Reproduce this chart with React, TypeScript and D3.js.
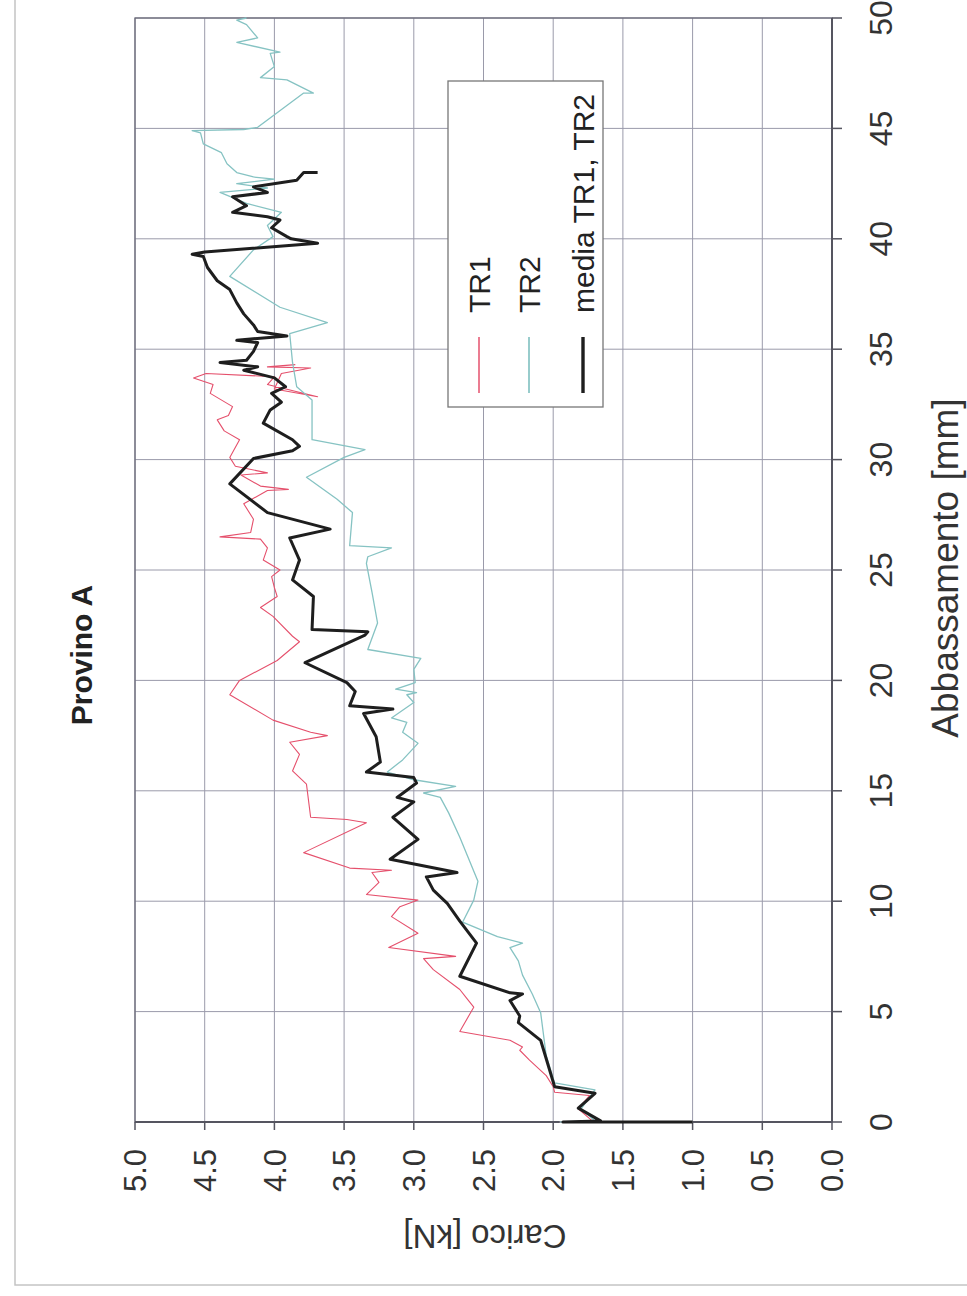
import React from "react";
import * as d3 from "d3";

const W = 967;
const H = 1296;

const xTicks = [0, 5, 10, 15, 20, 25, 30, 35, 40, 45, 50];
const yTicks = [0, 0.5, 1, 1.5, 2, 2.5, 3, 3.5, 4, 4.5, 5];

const tr1Mm = [0, 0, 0.05, 0.6, 1.2, 1.35, 1.6, 2.1, 2.8, 3.25, 3.4, 3.7, 4.1, 5.2, 5.6, 6.0, 6.9, 7.4, 7.5, 7.9, 8.55, 9.3, 9.75, 10.05, 10.3, 10.85, 11.3, 11.4, 11.5, 12.2, 13.55, 13.7, 13.8, 15.3, 15.9, 16.65, 17.2, 17.5, 17.65, 18.2, 19.35, 20.0, 20.9, 21.75, 22.0, 22.9, 23.3, 23.8, 24.2, 24.7, 25.0, 25.45, 26.0, 26.4, 26.5, 26.7, 27.3, 28.0, 28.6, 28.65, 28.8, 29.3, 29.4, 29.7, 30.1, 30.9, 31.3, 31.8, 32.0, 32.4, 33.0, 33.4, 33.7, 33.9, 33.75, 33.4, 32.85, 33.2, 33.9, 34.15, 34.2, 34.3];
const tr1Kn = [1.0, 1.95, 1.72, 1.82, 1.74, 1.99, 2.0, 2.05, 2.17, 2.24, 2.22, 2.31, 2.67, 2.57, 2.62, 2.67, 2.86, 2.93, 2.7, 3.18, 2.97, 3.16, 3.1, 2.97, 3.34, 3.25, 3.3, 3.16, 3.46, 3.79, 3.34, 3.48, 3.74, 3.77, 3.87, 3.82, 3.89, 3.62, 3.74, 4.01, 4.32, 4.25, 3.98, 3.82, 3.87, 4.01, 4.1, 3.98, 4.0, 4.02, 3.96, 4.08, 4.05, 4.1, 4.39, 4.17, 4.15, 4.22, 4.05, 3.9, 4.1, 4.24, 4.05, 4.28, 4.32, 4.25, 4.36, 4.41, 4.33, 4.3, 4.46, 4.44, 4.58, 4.49, 4.0, 4.05, 3.69, 4.0, 3.95, 3.74, 4.05, 3.85];

const tr2Mm = [0, 0, 0.05, 0.6, 1.45, 1.77, 3.0, 4.95, 5.8, 6.65, 7.3, 7.9, 8.1, 8.4, 9.05, 10.05, 10.9, 12.9, 14.0, 14.7, 14.9, 15.2, 15.5, 15.85, 16.4, 17.15, 17.65, 18.1, 18.3, 19.0, 19.35, 19.45, 19.6, 19.9, 20.5, 21.0, 21.4, 22.6, 24.0, 25.3, 25.6, 26.0, 26.1, 27.6, 28.2, 29.2, 30.1, 30.45, 30.9, 32.7, 33.3, 34.4, 35.7, 36.2, 36.9, 38.3, 39.5, 40.1, 40.6, 41.2, 41.6, 42.1, 42.3, 42.5, 42.7, 42.8, 43.0, 43.4, 43.9, 44.3, 44.8, 44.9, 44.95, 45.05, 46.6, 46.6, 47.2, 47.3, 47.8, 48.4, 48.45, 48.9, 49.1, 49.7, 49.9, 50.0];
const tr2Kn = [1.0, 1.95, 1.7, 1.8, 1.7, 1.99, 2.05, 2.09, 2.15, 2.22, 2.25, 2.31, 2.22, 2.4, 2.65, 2.57, 2.54, 2.67, 2.75, 2.81, 2.93, 2.7, 3.0, 3.19, 3.08, 2.97, 3.08, 3.05, 3.16, 3.0, 3.05, 2.98, 3.13, 2.99, 3.0, 2.95, 3.33, 3.26, 3.3, 3.34, 3.33, 3.16, 3.46, 3.44, 3.55, 3.77, 3.5, 3.35, 3.73, 3.73, 3.84, 3.87, 3.89, 3.62, 3.96, 4.32, 4.15, 4.01, 4.05, 3.95, 4.2, 4.39, 4.05, 4.27, 4.0, 4.15, 4.27, 4.34, 4.38, 4.51, 4.53, 4.59, 4.22, 4.12, 3.79, 3.72, 3.91, 4.1, 4.0, 4.03, 3.96, 4.27, 4.12, 4.2, 4.27, 4.2];

const meanMm = [0, 0, 0.05, 0.63, 1.3, 1.6, 3.7, 4.5, 4.8, 5.5, 5.8, 5.85, 6.6, 8.1, 9.1, 9.9, 10.5, 11.1, 11.3, 11.9, 12.8, 13.8, 14.5, 14.7, 15.35, 15.6, 15.85, 16.3, 17.45, 18.5, 18.7, 18.85, 19.5, 19.9, 20.8, 22.05, 22.2, 22.3, 23.8, 24.55, 25.45, 26.45, 26.85, 27.6, 28.9, 30.05, 30.4, 30.6, 30.9, 31.65, 32.25, 32.6, 33.0, 33.3, 33.7, 34.05, 34.2, 34.4, 34.5, 34.9, 35.3, 35.4, 35.5, 35.6, 35.8, 36.1, 36.6, 37.1, 37.7, 38.1, 38.7, 39.2, 39.3, 39.4, 39.8, 40.0, 40.1, 40.5, 40.85, 41.0, 41.2, 41.5, 41.9, 42.1, 42.35, 42.65, 43.0, 43.0];
const meanKn = [1.0, 1.93, 1.66, 1.82, 1.7, 1.99, 2.09, 2.25, 2.24, 2.31, 2.22, 2.31, 2.67, 2.55, 2.67, 2.76, 2.86, 2.91, 2.69, 3.17, 2.97, 3.15, 3.0, 3.12, 2.98, 3.0, 3.34, 3.24, 3.27, 3.36, 3.15, 3.46, 3.42, 3.48, 3.78, 3.35, 3.33, 3.73, 3.72, 3.87, 3.82, 3.89, 3.6, 4.05, 4.32, 4.15, 3.87, 3.82, 3.87, 4.08, 4.03, 3.95, 4.02, 3.92, 4.0, 4.22, 4.12, 4.39, 4.2, 4.15, 4.12, 4.27, 4.1, 3.91, 4.12, 4.15, 4.22, 4.27, 4.32, 4.41, 4.48, 4.51, 4.59, 4.5, 3.69, 3.88, 3.91, 4.02, 3.96, 4.05, 4.3, 4.2, 4.3, 4.05, 4.15, 3.84, 3.79, 3.69];

const legendLabels = ["TR1", "TR2", "media TR1, TR2"];
const FONT = "'Liberation Sans', Arial, sans-serif";

export default function App() {
  // original (unrotated) coordinate system: width H, height W
  const x = d3.scaleLinear().domain([0, 50]).range([174, 1278]);
  const y = d3.scaleLinear().domain([0, 5]).range([832, 135]);
  const mk = (mm: number[], kn: number[]) =>
    d3
      .line<number>()
      .x((_, i) => x(mm[i]))
      .y((_, i) => y(kn[i]))(mm) || "";

  const series = [
    { mm: tr1Mm, kn: tr1Kn, color: "#e5506c", w: 1.1 },
    { mm: tr2Mm, kn: tr2Kn, color: "#86c3c3", w: 1.3 },
    { mm: meanMm, kn: meanKn, color: "#1e1e1e", w: 3 },
  ];

  const gridColor = "#9a9aaa";
  const fmt = d3.format(".1f");
  const legendOy = [479, 529, 583];

  return (
    <svg
      width={W}
      height={H}
      style={{ position: "absolute", left: 0, top: 0, background: "#fff" }}
      fontFamily={FONT}
    >
      <rect x={0} y={0} width={W} height={H} fill="#fff" />
      <rect x={15} y={-5} width={1000} height={1290} fill="none" stroke="#c4c4c4" strokeWidth={1.5} />
      <g transform={`translate(0,${H}) rotate(-90)`}>
        {/* grid */}
        {xTicks.map((t) => (
          <line key={"gx" + t} x1={x(t)} x2={x(t)} y1={y(0)} y2={y(5)} stroke={gridColor} strokeWidth={1} />
        ))}
        {yTicks.map((t) => (
          <line key={"gy" + t} x1={x(0)} x2={x(50)} y1={y(t)} y2={y(t)} stroke={gridColor} strokeWidth={1} />
        ))}
        {/* frame */}
        <rect x={x(0)} y={y(5)} width={x(50) - x(0)} height={y(0) - y(5)} fill="none" stroke="#6a6a78" strokeWidth={1.3} />
        <line x1={x(0)} x2={x(50)} y1={y(0)} y2={y(0)} stroke="#555560" strokeWidth={2} />
        <line x1={x(0)} x2={x(0)} y1={y(0)} y2={y(5)} stroke="#555560" strokeWidth={2} />
        {/* ticks */}
        {xTicks.map((t) => (
          <g key={"tx" + t}>
            <line x1={x(t)} x2={x(t)} y1={y(0)} y2={y(0) + 10} stroke="#555560" strokeWidth={1.5} />
            <text x={x(t)} y={880} textAnchor="middle" dy="0.36em" fontSize={32} fill="#333">
              {t}
            </text>
          </g>
        ))}
        {yTicks.map((t) => (
          <g key={"ty" + t}>
            <line x1={x(0) - 8} x2={x(0)} y1={y(t)} y2={y(t)} stroke="#555560" strokeWidth={1.5} />
            <text x={147} y={y(t)} textAnchor="end" dy="0.36em" fontSize={31} fill="#333">
              {fmt(t)}
            </text>
          </g>
        ))}
        {/* series */}
        {series.map((s, i) => (
          <path key={i} d={mk(s.mm, s.kn)} fill="none" stroke={s.color} strokeWidth={s.w} strokeLinejoin="round" />
        ))}
        {/* legend */}
        <rect x={889} y={448} width={326} height={155} fill="#fff" stroke="#777" strokeWidth={1.3} />
        {legendLabels.map((l, i) => (
          <g key={l}>
            <line x1={903} x2={959} y1={legendOy[i]} y2={legendOy[i]} stroke={series[i].color} strokeWidth={series[i].w + 0.4} />
            <text x={983} y={legendOy[i]} dy="0.36em" fontSize={30} fill="#222">
              {l}
            </text>
          </g>
        ))}
        {/* titles */}
        <text x={641} y={81} textAnchor="middle" dy="0.36em" fontSize={30} fontWeight="bold" fill="#222">
          Provino A
        </text>
        <text x={728} y={945} textAnchor="middle" dy="0.36em" fontSize={37} fill="#333">
          Abbassamento [mm]
        </text>
        <text transform={`translate(59,485) rotate(-90)`} textAnchor="middle" dy="0.36em" fontSize={33} fill="#333">
          Carico [kN]
        </text>
      </g>
    </svg>
  );
}
